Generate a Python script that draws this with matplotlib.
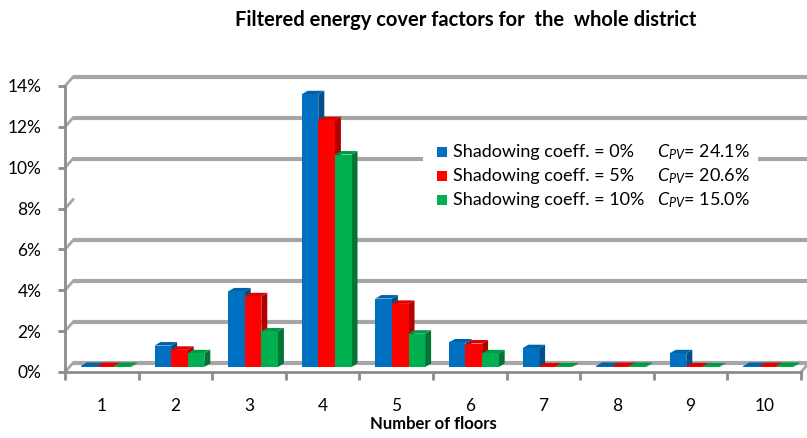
import numpy as np
import matplotlib
matplotlib.use("Agg")
import matplotlib.pyplot as plt
from matplotlib.patches import Polygon, Rectangle

plt.rcParams['font.family'] = ['Lato', 'DejaVu Sans']
plt.rcParams['mathtext.fontset'] = 'custom'
plt.rcParams['mathtext.it'] = 'Lato:italic'
plt.rcParams['mathtext.rm'] = 'Lato'

# data (percent)
floors = ['1', '2', '3', '4', '5', '6', '7', '8', '9', '10']
shade_0 = [0.05, 1.05, 3.70, 13.35, 3.35, 1.20, 0.92, 0.05, 0.67, 0.05]
shade_5 = [0.05, 0.84, 3.46, 12.08, 3.09, 1.15, 0.03, 0.05, 0.03, 0.05]
shade_10 = [0.05, 0.67, 1.74, 10.40, 1.63, 0.67, 0.03, 0.05, 0.03, 0.05]
series_labels = ['Shadowing coeff. = 0%', 'Shadowing coeff. = 5%', 'Shadowing coeff. = 10%']
cpv_labels = ['24.1%', '20.6%', '15.0%']
yticks = [0, 2, 4, 6, 8, 10, 12, 14]

front = ['#0070C0', '#FF0000', '#00B050']
top_c = ['#0062a8', '#e00000', '#009a45']
side_c = ['#004f88', '#b00000', '#007535']

W, H = 807, 438
fig = plt.figure(figsize=(W / 100, H / 100), dpi=100)
ax = fig.add_axes([65 / W, (H - 372) / H, 736 / W, 286 / H])
ax.set_xlim(-0.5, 9.5)
ax.set_ylim(0, 14)

px_x = 73.6          # pixels per category
px_y = 286 / 14.0    # pixels per percent
gx, gy = 8 / px_x, 9 / px_y   # back wall offset

# back wall gridlines (8% one is missing in the original)
for v in yticks:
    ax.plot([-0.5, -0.5 + gx], [v, v + gy], color='#a6a6a6', lw=2, clip_on=False, zorder=1)
    if v == 8:
        continue
    ax.plot([-0.5 + gx, 9.5 + 8 / px_x], [v + gy, v + gy], color='#a6a6a6', lw=3,
            clip_on=False, zorder=1, solid_capstyle='butt')
ax.plot([9.5, 9.5 + gx], [0, gy], color='#a6a6a6', lw=2, clip_on=False, zorder=1)

# 3d-ish bars
x = np.arange(len(floors))
bw = 16.6 / px_x
shift = 4 / px_x
base = 5 / px_y
ddx, ddy = 6 / px_x, 3.5 / px_y
data = [shade_0, shade_5, shade_10]
for i, vals in enumerate(data):
    xs = x - 1.5 * bw + shift + i * bw
    z = 3 + i
    ax.bar(xs, vals, width=bw, bottom=base, align='edge', color=front[i], zorder=z + 0.2)
    for x0, v in zip(xs, vals):
        t = base + v
        x1 = x0 + bw
        ax.add_patch(Polygon([(x0, t), (x1, t), (x1 + ddx, t + ddy), (x0 + ddx, t + ddy)],
                             closed=True, color=top_c[i], zorder=z + 0.1, lw=0))
        ax.add_patch(Polygon([(x1, base), (x1 + ddx, base + ddy), (x1 + ddx, t + ddy), (x1, t)],
                             closed=True, color=side_c[i], zorder=z, lw=0))

# axes
for s in ['top', 'right']:
    ax.spines[s].set_visible(False)
for s in ['left', 'bottom']:
    ax.spines[s].set_color('#8c8c8c')
    ax.spines[s].set_linewidth(2)
ax.set_yticks(yticks)
ax.set_yticklabels([f'{v}%' for v in yticks], fontsize=12.5)
ax.tick_params(axis='y', length=5, width=2, color='#8c8c8c', pad=12)
ax.set_xticks(x)
ax.set_xticklabels(floors, fontsize=12.5)
ax.set_xticks(np.arange(-0.5, 10, 1), minor=True)
ax.tick_params(axis='x', which='major', length=0, pad=19)
ax.tick_params(axis='x', which='minor', length=6, width=2, color='#8c8c8c')
ax.set_xlabel('Number of floors', fontsize=12, fontweight='bold', labelpad=1)

fig.text(466 / W, 1 - 20 / H, 'Filtered energy cover factors for  the  whole district',
         ha='center', va='center', fontsize=14.5, fontweight='bold')

# legend
fig.patches.append(Rectangle((423 / W, 1 - 213 / H), 335 / W, 73 / H, transform=fig.transFigure,
                             facecolor='white', edgecolor='none', zorder=2))
rows_y = [152, 176, 200]
for i in range(3):
    fy = 1 - rows_y[i] / H
    fig.patches.append(Rectangle((437 / W, fy - 5 / H), 10 / W, 10 / H, transform=fig.transFigure,
                                 facecolor=front[i], edgecolor='none', zorder=3))
    fig.text(453 / W, fy, series_labels[i], ha='left', va='center', fontsize=13, zorder=4)
    fig.text(657 / W, fy, r'$C_{PV}$' + '= ' + cpv_labels[i], ha='left', va='center',
             fontsize=13, zorder=4)

fig.savefig('out.png', dpi=100)
